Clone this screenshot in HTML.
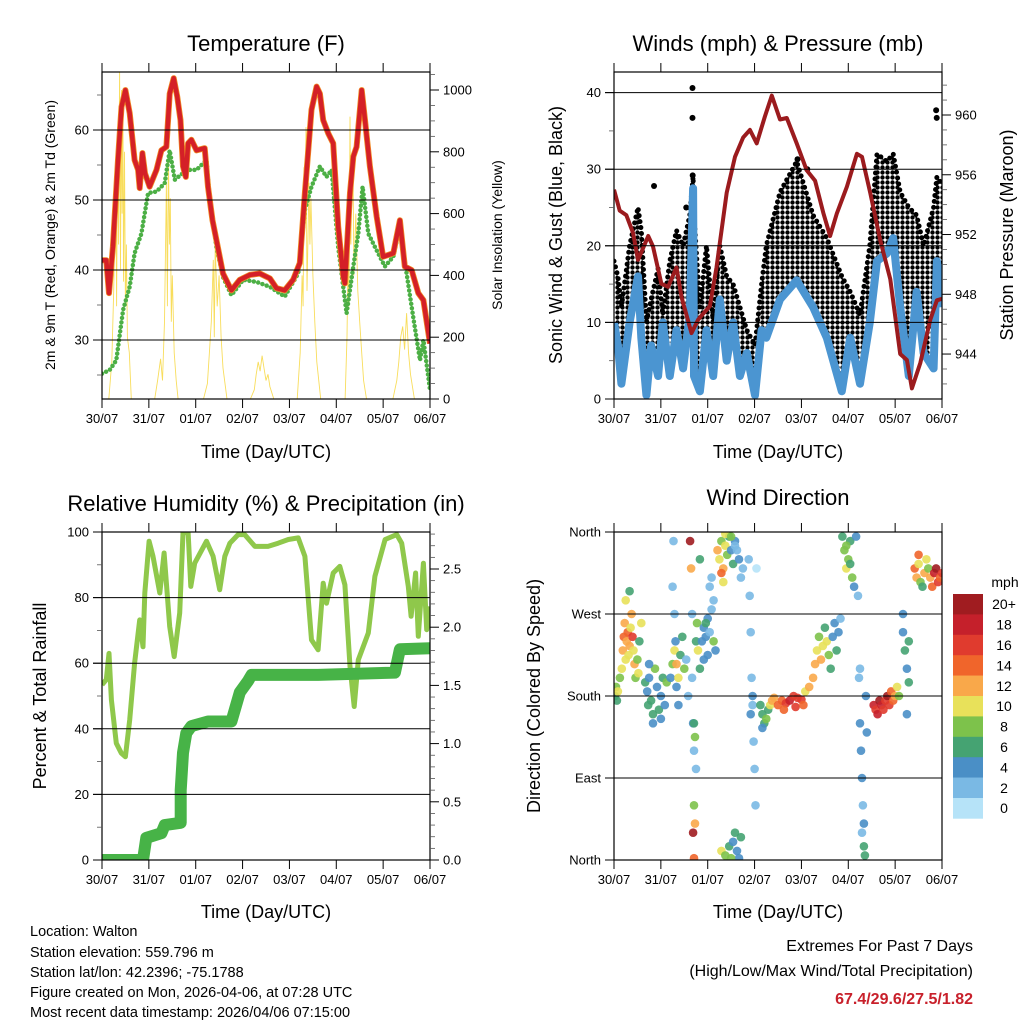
<!DOCTYPE html>
<html><head><meta charset="utf-8"><title>Walton weather station charts</title>
<style>
html,body{margin:0;padding:0;background:#fff;}
svg{display:block;font-family:"Liberation Sans",Arial,sans-serif;}
</style></head>
<body>
<svg id="fig" xmlns="http://www.w3.org/2000/svg" width="1024" height="1024" viewBox="0 0 1024 1024">
<rect x="0" y="0" width="1024" height="1024" fill="#fff"/>
<defs>
<clipPath id="c1"><rect x="102" y="72" width="328" height="327"/></clipPath>
<clipPath id="c2"><rect x="614" y="72" width="328" height="327"/></clipPath>
<clipPath id="c3"><rect x="102" y="532" width="328" height="328"/></clipPath>
<clipPath id="c4"><rect x="614" y="532" width="328" height="328"/></clipPath>
<pattern id="dotpat" width="5" height="5" patternUnits="userSpaceOnUse"><circle cx="2.5" cy="2.5" r="2.2" fill="#000"/></pattern>
</defs>
<g id="layer"></g>
<text x="266" y="51" font-size="22" text-anchor="middle">Temperature (F)</text>
<text x="778" y="51" font-size="22" text-anchor="middle">Winds (mph) &amp; Pressure (mb)</text>
<text x="266" y="511" font-size="22" text-anchor="middle">Relative Humidity (%) &amp; Precipitation (in)</text>
<text x="778" y="505" font-size="22" text-anchor="middle">Wind Direction</text>
<text x="266" y="458" font-size="18" text-anchor="middle">Time (Day/UTC)</text>
<text x="778" y="458" font-size="18" text-anchor="middle">Time (Day/UTC)</text>
<text x="266" y="918" font-size="18" text-anchor="middle">Time (Day/UTC)</text>
<text x="778" y="918" font-size="18" text-anchor="middle">Time (Day/UTC)</text>
<text transform="translate(55,235) rotate(-90)" font-size="14" text-anchor="middle">2m &amp; 9m T (Red, Orange) &amp; 2m Td (Green)</text>
<text transform="translate(502,235) rotate(-90)" font-size="14" text-anchor="middle">Solar Insolation (Yellow)</text>
<text transform="translate(562,235) rotate(-90)" font-size="18" text-anchor="middle">Sonic Wind &amp; Gust (Blue, Black)</text>
<text transform="translate(1013,235) rotate(-90)" font-size="18" text-anchor="middle">Station Pressure (Maroon)</text>
<text transform="translate(46,696) rotate(-90)" font-size="18" text-anchor="middle">Percent &amp; Total Rainfall</text>
<text transform="translate(540,696) rotate(-90)" font-size="18" text-anchor="middle">Direction (Colored By Speed)</text>
<g font-size="14.5">
<text x="30" y="936">Location: Walton</text>
<text x="30" y="957">Station elevation: 559.796 m</text>
<text x="30" y="977">Station lat/lon: 42.2396; -75.1788</text>
<text x="30" y="997">Figure created on Mon, 2026-04-06, at 07:28 UTC</text>
<text x="30" y="1017">Most recent data timestamp: 2026/04/06 07:15:00</text>
</g>
<g text-anchor="end">
<text x="973" y="951" font-size="16">Extremes For Past 7 Days</text>
<text x="973" y="976" font-size="16">(High/Low/Max Wind/Total Precipitation)</text>
<text x="973" y="1004" font-size="16" font-weight="bold" fill="#c8202b">67.4/29.6/27.5/1.82</text>
</g>
</svg>
<script>
const dayLabels=["30/07","31/07","01/07","02/07","03/07","04/07","05/07","06/07"];
const tempT=[0,2.2,3.6,5.6,8.2,10,12,14.2,16.7,18.5,19.3,20.7,22,24.4,27.9,30.4,33,34.7,36.7,38.5,40.2,41.5,42.9,44.1,45.8,48.4,52.6,54.3,56.6,58.6,62,66.3,70.6,75.7,80.8,86,89.4,93.6,97.9,101.3,103.9,107.3,109.9,111.6,113.3,115.9,118.4,121,123.6,124.4,127,128.7,130.4,133,134.7,137.2,140.7,144,149.2,152.6,155.1,158.6,162,164.6,168];
const tempV=[41.4,41.4,36.7,43.3,55.7,63.3,65.7,62.4,55.7,54.3,51.7,56.7,53.8,51.9,54.3,57.1,57.6,65.2,67.4,64.8,61.4,54.8,53.3,58.1,58.6,57.1,57.4,51.9,47.1,44.3,39.5,37.1,38.6,39.3,39.5,38.8,37.4,37.1,38.6,41,51,62.9,66.2,65.2,61.4,59.5,58.1,46.2,39,38.1,51,56.2,57.6,65.7,61.4,54.8,47.6,41.9,42.4,47.1,40.5,40,36.7,35.7,29.5];
const dewT=[0,3.9,7.3,10.8,14.2,16.7,20.2,23.6,27.9,32.1,34.7,37.3,41.3,45,48.4,53.5,55.2,58.6,62,66.3,72.3,79.1,86,93.6,100.5,103.9,107.3,111.6,115,117.6,121,125.3,128.7,131.3,133.5,136.4,139.8,144.9,149.2,152.6,156,159.4,162.9,164.6,168];
const dewV=[25.2,25.7,27.1,34.3,37.6,42.4,45.2,51,51.2,52.4,57.1,52.9,53.8,54.3,54.3,55.7,50,43.3,39,36.4,38.6,38.3,37.6,36.2,39.5,48.6,51.9,54.8,53.3,54.3,43.3,33.8,40.5,45.2,51.9,45.2,43.3,40.5,41.9,46.2,39.5,33.3,27.1,30,22.9];
const solarT=[0,3.5,5,6,7,7.5,8,8.5,9,9.5,10,10.3,10.7,11,11.5,12,12.5,13,14,15,27,28.5,30,31,32,33,33.5,34,34.5,35,35.5,36,37,38,39,52,54,55,56,57,57.5,58,59,60,61,62,64,76,78,79,80,81,82,83,84,85,86,88,100,101.5,102.5,103,103.5,104,104.5,105,106,106.5,107,108,109,110,112,124.5,125.5,126,126.5,127,127.5,128,128.5,129,130,131,132,133,134,135.5,149,151,152,153,154,155,156,157,158,160];
const solarV=[0,0,120,350,750,300,880,500,1070,420,1000,600,950,380,800,300,500,200,150,0,0,60,130,60,250,700,300,800,500,650,250,400,150,60,0,0,50,150,250,450,200,500,300,400,200,100,0,0,30,80,120,90,140,100,60,80,40,0,0,150,400,300,750,600,880,350,700,500,650,400,250,120,0,0,200,450,300,914,500,700,800,400,600,350,250,150,60,0,0,60,120,200,235,160,278,150,80,0];
const windT=[0,2,3.8,8,12.3,14,16.6,19,22.6,25,28.6,32,35.4,38.8,40.5,41,44,47.4,50.8,54.2,57.7,61,64.5,68,72.2,75.6,78,85,93.6,102,109,116.7,121,126,131,134.7,139.8,143,146.6,151,155,158.6,163.7,165.4,168];
const sustained=[10,7,2,10,16,8,0.5,7,3,10,3,9,4,11,27.5,3,1,9,3,13,5,10,3,6,0.5,9,8,13,15.5,12,8,1,8,2,10,18,19,21,12,3,14,6,4,18,12];
const gustHigh=[18,16,12,20,25,22,10,13,17,11,18,22,20,24,29,24,12,20,10,20,16,15,12,9,7,15,20,27,31,24,21,16,14,11,20,32,31,32,27,25,24,20,25,29,28];
const gustOutT=[40.2,40.2,40.3,165,165.3,20.5,37,94,99];
const gustOutV=[40.6,36.7,29.2,37.7,36.7,27.8,25,31.3,30];
const presT=[0,2.9,6.3,9.8,12.3,14,17.5,20,24.3,27.7,32,34.6,39.7,43.1,45.7,49.1,52.5,57.7,62,66.2,69.6,73.1,77.3,80.8,85,88.5,93.6,98.7,103,107.3,110.7,114.1,119.3,124.4,127,131.2,136.4,141.5,146.6,150,152.6,156.9,162,165.4,168];
const presV=[955,953.6,953.3,952.1,950.3,950.8,951.9,951.2,948.7,948.5,949.8,947.8,945.4,946.3,946.7,947.2,949.8,954.8,957.2,958.5,959,958.1,959.9,961.3,959.7,959.8,958.1,956.3,955.6,953.4,951.9,953.4,955.2,957.4,957.2,954.8,951.6,949,944,943.6,941.7,943.4,946.3,947.6,947.7];
const rhT=[0,2.2,3.6,4.8,7.3,9.9,12,14.2,16.7,19.3,21,21.9,24.1,26.1,29.6,31.8,34.7,37,39.8,41.5,44.1,45.5,47.5,53.5,56.9,60.3,62.9,65.5,69.7,73.1,78.3,85,90.2,95.4,100.5,103.9,107.3,110.7,113.3,115,118.4,121.8,124.4,127,129.2,131.3,136.4,139.8,145,151,153.5,156.9,158.3,160.6,162,164.6,166.3,168];
const rhV=[53.4,55,63,48.8,35.6,32.6,31.5,42.7,60,73.2,65,81.4,97.2,92.6,81.4,93.6,71.2,62,75.3,99.7,100,83.4,90.5,97.2,92.6,82.4,92.6,96.6,99.2,99.2,95.6,95.6,96.6,97.7,98.2,92.6,67.1,64.1,84.4,78.3,87.5,89.5,83.9,59,46.8,61,69.2,86.5,97.7,99.2,96.6,83.4,74.3,87.5,68.2,90.5,70.2,77.3];
const rainT=[-0.5,21,22.7,30.4,32.1,40.3,40.3,41.5,43.2,45.8,54.3,66.3,70.6,74.9,76.6,110.7,150,152.6,168];
const rainV=[0,0,0.19,0.23,0.3,0.32,0.6,0.92,1.09,1.15,1.19,1.19,1.44,1.54,1.59,1.59,1.61,1.81,1.82];
const dirT=[0.5,1,1.5,2,3,4,4.5,5,5.5,6,6.5,7,7.5,8,8.5,9,9.5,10,10.5,11,12,12.5,13,14,6,8,
16,17,17.5,18,19,20,21,22,23,24,25,26,27,20,24,18,
29,30,31,32,33,34,35,36,30,30.5,31,31.5,32,33,37,38,
39,39.5,40,40,40.5,41,41,41.5,40.5,41,42,42,42.5,43,44,44,41,41.5,
45,46,47,48,49,50,51,48,49,50,46,52,47,51,
53,54,55,56,57,58,59,60,61,62,63,64,55,57,60,62,65,66,56,
55,57,59,61,62,63,64,65,60,
69,69.5,70,70.5,71,71.5,72,72.5,73,71,70,
75,76,77,78,79,80,81,82,76,
84,86,88,90,92,94,96,98,100,102,87,93,97,
103,104,105,106,107,108,109,110,111,112,113,114,115,116,
117,118,119,120,121,122,123,124,125,119,121,
125.5,126,126.5,127,127.5,128,128,128.5,129,129.5,126,127,
133,134,135,136,137,138,139,140,141,142,143,144,145,146,
148,149,150,151,148,150,151,
154,155,156,157,158,159,160,161,162,163,164,165,166,167,168,156];
const dirDeg=[180,190,175,185,200,210,230,245,260,220,240,250,225,235,255,270,245,230,215,200,220,205,240,260,285,295,
195,185,170,200,175,160,210,190,165,180,200,170,195,150,155,215,
200,215,230,215,200,225,245,210,300,350,270,240,190,170,220,180,
350,320,270,200,150,120,60,40,30,2,100,240,260,230,210,330,150,135,
240,255,245,265,250,275,285,225,300,310,220,230,260,240,
340,330,350,320,345,335,355,340,325,350,340,330,315,358,355,345,310,320,305,
10,5,15,20,30,10,2,25,2,
330,290,250,200,170,130,100,60,320,180,160,
170,160,150,155,165,170,175,178,145,
170,175,172,175,180,178,176,185,190,200,165,168,170,
215,230,245,220,235,255,240,225,210,245,260,230,250,265,
355,340,320,330,350,310,300,355,290,345,325,
200,150,120,90,60,40,15,5,180,140,210,30,
170,165,160,175,170,165,175,180,170,185,175,180,190,180,
250,230,210,195,270,160,240,
320,310,325,305,300,315,330,320,310,300,315,320,305,310,315,335];
const dirSpd=[6,8,7,10,8,10,12,14,13,11,12,15,10,13,11,12,16,10,12,9,8,10,6,10,10,6,
6,4,6,5,7,6,8,5,6,4,7,5,8,4,5,4,
5,8,10,12,10,7,6,8,2,2,3,4,4,4,3,3,
20,12,2,3,4,2,8,12,20,14,2,6,8,10,6,6,6,8,
4,4,4,4,3,3,3,4,3,2,5,4,6,8,
12,10,8,12,10,8,6,4,6,5,3,4,14,10,8,2,2,2,10,
10,8,6,4,6,4,5,6,8,
2,2,3,2,2,2,3,2,1,4,5,
6,7,6,8,7,10,12,13,5,
14,15,16,18,17,16,17,10,12,12,14,16,14,
12,10,8,12,11,7,10,9,6,5,4,6,4,3,
6,8,10,9,6,8,4,5,3,9,6,
2,4,4,4,3,4,6,6,4,4,3,2,
18,16,19,20,18,16,17,20,16,14,15,12,10,8,
4,6,4,6,4,4,7,
14,12,10,8,6,12,10,8,12,14,18,20,16,14,16,14];
const cbLabels=["20+","18","16","14","12","10","8","6","4","2","0"];
const cbColors=["#a01c20","#c5202b","#e03b2e","#f0652b","#f9a84a","#e8e15a","#7dc24b","#45a372","#4a8fc6","#7ab9e4","#b6e3f8"];

const NS="http://www.w3.org/2000/svg";
const layer=document.getElementById('layer');
function mk(tag,attrs,parent){const e=document.createElementNS(NS,tag);for(const k in attrs)e.setAttribute(k,attrs[k]);(parent||layer).appendChild(e);return e;}
function pts(xs,ys,fx,fy){return xs.map((t,i)=>fx(t).toFixed(1)+','+fy(ys[i]).toFixed(1)).join(' ');}

const L={x0:102,x1:430}, R={x0:614,x1:942};
const T={y0:72,y1:399}, B={y0:532,y1:860};
const xL=h=>L.x0+h/168*(L.x1-L.x0);
const xR=h=>R.x0+h/168*(R.x1-R.x0);
const yTemp=t=>130+(60-t)*7;
const ySol=s=>399-s*0.309;
const yWind=v=>399-v*7.66;
const yPres=p=>115+(960-p)*14.94;
const yRH=r=>860-r*3.28;
const yRain=p=>860-p*116.4;
const yDir=d=>860-d*0.9111;

function frame(name,box,vbox){
  const g=mk('g',{});
  
  
  mk('rect',{x:box.x0,y:vbox.y0,width:box.x1-box.x0,height:vbox.y1-vbox.y0,fill:'none',stroke:'#000','stroke-width':1.2},g);
  return g;
}
function xAxis(name,box,vbox,fx){
  const g=mk('g',{});
  
  
  dayLabels.forEach((lab,i)=>{
    const x=fx(i*24);
    mk('line',{x1:x,x2:x,y1:vbox.y1,y2:vbox.y1+9,stroke:'#000','stroke-width':1},g);
    mk('line',{x1:x,x2:x,y1:vbox.y0,y2:vbox.y0-9,stroke:'#000','stroke-width':1},g);
    const t=mk('text',{x:x,y:vbox.y1+24,'font-size':13,'text-anchor':'middle'},g);t.textContent=lab;
  });
}
function yAxis(name,side,box,vals,fy,labels,minors,grid){
  const g=mk('g',{});
  
  
  const x=side==='l'?box.x0:box.x1, d=side==='l'?-1:1;
  vals.forEach((v,i)=>{
    const y=fy(v);
    if(grid) mk('line',{x1:box.x0-9,x2:box.x1,y1:y,y2:y,stroke:'#000','stroke-width':1},g);
    else mk('line',{x1:x,x2:x+9*d,y1:y,y2:y,stroke:'#000','stroke-width':1},g);
    if(labels[i]!==''){const t=mk('text',{x:x+13*d,y:y+4.5,'font-size':13,'text-anchor':side==='l'?'end':'start'},g);t.textContent=labels[i];}
  });
  minors.forEach(v=>{const y=fy(v);mk('line',{x1:x,x2:x+5*d,y1:y,y2:y,stroke:'#555','stroke-width':0.8},g);});
}
function range(a,b,s){const r=[];for(let v=a;v<=b+1e-9;v+=s)r.push(+v.toFixed(4));return r;}

// ---------- Panel 1: Temperature ----------
const p1=mk('g',{'clip-path':'url(#c1)'});


yAxis('temp-gridlines','l',L,[30,40,50,60],yTemp,['','','',''],[],true);
const sol=mk('polyline',{points:pts(solarT,solarV,xL,ySol),fill:'none',stroke:'#f7d94a','stroke-width':0.9,opacity:0.9},p1);


const dew=mk('polyline',{points:pts(dewT,dewV,xL,yTemp),fill:'none',stroke:'#4caf45','stroke-width':4.5,'stroke-linecap':'round','stroke-dasharray':'0 4.5','stroke-linejoin':'round'},p1);


const t9=mk('polyline',{points:pts(tempT,tempV,xL,yTemp),fill:'none',stroke:'#f08a24','stroke-width':6,'stroke-linejoin':'round'},p1);


const t2=mk('polyline',{points:pts(tempT,tempV,xL,yTemp),fill:'none',stroke:'#d42027','stroke-width':4.5,'stroke-linejoin':'round'},p1);


frame('temperature-frame',L,T);
xAxis('temp-x-axis',L,T,xL);
yAxis('temp-y-axis','l',L,[30,40,50,60],yTemp,['30','40','50','60'],[25,35,45,55,65],false);
yAxis('solar-y-axis','r',L,range(0,1000,200),ySol,['0','200','400','600','800','1000'],range(50,1050,50).filter(v=>v%200),false);

// ---------- Panel 2: Winds ----------
const p2=mk('g',{'clip-path':'url(#c2)'});


yAxis('wind-gridlines','l',R,[10,20,30,40],yWind,['','','',''],[],true);
const bandPts=windT.map((t,i)=>xR(t).toFixed(1)+','+yWind(gustHigh[i]).toFixed(1)).concat(windT.slice().reverse().map((t,j)=>{const i=windT.length-1-j;return xR(t).toFixed(1)+','+yWind(sustained[i]).toFixed(1);})).join(' ');
const band=mk('polygon',{points:bandPts,fill:'url(#dotpat)',stroke:'none'},p2);


const gedge=mk('polyline',{points:pts(windT,gustHigh,xR,yWind),fill:'none',stroke:'#000','stroke-width':5,'stroke-linecap':'round','stroke-dasharray':'0 6'},p2);


gustOutT.forEach((t,i)=>{
  const c=mk('circle',{cx:xR(t),cy:yWind(gustOutV[i]),r:3,fill:'#000'},p2);
  
  
});
const sus=mk('polyline',{points:pts(windT,sustained,xR,yWind),fill:'none',stroke:'#4b95d1','stroke-width':8,'stroke-linejoin':'round'},p2);


const pr=mk('polyline',{points:pts(presT,presV,xR,yPres),fill:'none',stroke:'#9b1b1e','stroke-width':4,'stroke-linejoin':'round'},p2);


frame('winds-frame',R,T);
xAxis('winds-x-axis',R,T,xR);
yAxis('wind-y-axis','l',R,[0,10,20,30,40],yWind,['0','10','20','30','40'],[5,15,25,35],false);
yAxis('pressure-y-axis','r',R,[944,948,952,956,960],yPres,['944','948','952','956','960'],range(942,962,1).filter(v=>v%4),false);

// ---------- Panel 3: RH & Precip ----------
const p3=mk('g',{'clip-path':'url(#c3)'});


yAxis('rh-gridlines','l',L,[20,40,60,80],yRH,['','','',''],[],true);
const rh=mk('polyline',{points:pts(rhT,rhV,xL,yRH),fill:'none',stroke:'#8fc84b','stroke-width':5,'stroke-linejoin':'round'},p3);


const rn=mk('polyline',{points:pts(rainT,rainV,xL,yRain),fill:'none',stroke:'#47b347','stroke-width':12,'stroke-linejoin':'round','stroke-linecap':'round'},p3);


frame('humidity-frame',L,B);
xAxis('rh-x-axis',L,B,xL);
yAxis('rh-y-axis','l',L,[0,20,40,60,80,100],yRH,['0','20','40','60','80','100'],[10,30,50,70,90],false);
yAxis('rain-y-axis','r',L,range(0,2.5,0.5),yRain,['0.0','0.5','1.0','1.5','2.0','2.5'],range(0.1,2.8,0.1).filter(v=>Math.abs(v*2-Math.round(v*2))>0.01),false);

// ---------- Panel 4: Wind direction ----------
const p4=mk('g',{'clip-path':'url(#c4)'});


yAxis('dir-gridlines','l',R,[90,180,270],yDir,['','',''],[],true);
function spdColor(s){let i=Math.min(10,Math.floor(s/2));return cbColors[10-i];}
dirT.forEach((t,i)=>{
  const c=mk('circle',{cx:xR(t).toFixed(1),cy:yDir(dirDeg[i]).toFixed(1),r:4.3,fill:spdColor(dirSpd[i]),opacity:0.9},p4);
  
  
});
frame('wind-direction-frame',R,B);
xAxis('dir-x-axis',R,B,xR);
yAxis('dir-y-axis','l',R,[0,90,180,270,360],yDir,['North','East','South','West','North'],[],false);

// colorbar
const cb=mk('g',{});


const cbTop=594, cbH=20.4;
cbColors.forEach((col,i)=>{
  const r=mk('rect',{x:953,y:cbTop+i*cbH,width:30,height:cbH+0.3,fill:col},cb);
  
  
  const t=mk('text',{x:1004,y:cbTop+i*cbH+cbH/2+5,'font-size':14,'text-anchor':'middle'},cb);t.textContent=cbLabels[i];
});
const mt=mk('text',{x:1005,y:587,'font-size':14,'text-anchor':'middle'},cb);mt.textContent='mph';
</script>
</body></html>
